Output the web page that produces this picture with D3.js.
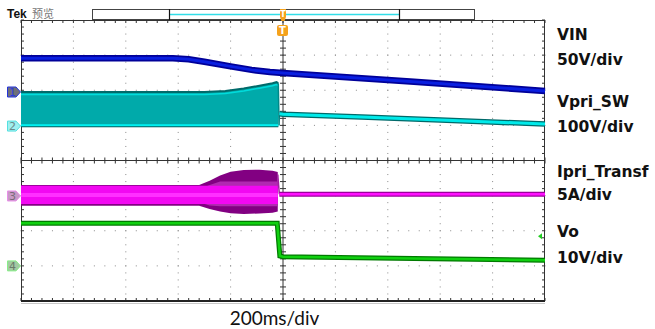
<!DOCTYPE html>
<html lang="zh">
<head>
<meta charset="UTF-8">
<title>Scope capture</title>
<style>
  body { margin: 0; background: #fff; }
  svg { display: block; }
</style>
</head>
<body>
<svg id="scope" width="655" height="329"></svg>
<script src="https://d3js.org/d3.v7.min.js"></script>
<script>
// time in ms (200ms/div, trigger at 0), values in screen divisions (+4 top, -4 bottom)
const vinTrace = [[-1000, 2.91], [-420, 2.91], [-360, 2.88], [-300, 2.81], [-200, 2.68], [-120, 2.58], [-50, 2.52], [0, 2.49], [500, 2.24], [1000, 1.98]];

const vpriTop = [[-1000, 1.95], [-300, 1.95], [-220, 1.98], [-150, 2.05], [-90, 2.13], [-40, 2.20], [-25, 2.23], [-18, 2.20]];
const vpriBottom = [[-1000, 0.96], [-18, 0.96]];
const vpriAfter = [[-14, 1.33], [0, 1.32], [300, 1.24], [600, 1.15], [1000, 1.04]];

// [time, upper envelope, lower envelope]
const ipriEnvelope = [[-1000, -0.70, -1.29], [-320, -0.70, -1.29], [-280, -0.58, -1.38], [-240, -0.43, -1.45], [-200, -0.32, -1.50],
  [-150, -0.27, -1.52], [-90, -0.26, -1.51], [-40, -0.29, -1.49], [-20, -0.33, -1.45]];
const ipriCore = [[-1000, -0.72, -1.24], [-20, -0.72, -1.24]];
const ipriAfter = [[-14, -0.96], [1000, -0.96]];

const voTrace = [[-1000, -1.79], [-22, -1.79], [-12, -2.72], [0, -2.74], [500, -2.79], [1000, -2.84]];

const channelMarkers = [
  { label: "1", level: 1.95, fill: "#6f6f78", stroke: "#2233dd", text: "#2a3adf" },
  { label: "2", level: 0.98, fill: "#9ff0f0", stroke: "#55e0e0", text: "#6a8a8a" },
  { label: "3", level: -1.01, fill: "#c79ac7", stroke: "#e890e8", text: "#7a6a7a" },
  { label: "4", level: -3.00, fill: "#a3c9a3", stroke: "#88ee88", text: "#6a7a6a" }
];

const sideLabels = [
  { text: "VIN", y: 40 }, { text: "50V/div", y: 65 },
  { text: "Vpri_SW", y: 107 }, { text: "100V/div", y: 132 },
  { text: "Ipri_Transf", y: 177 }, { text: "5A/div", y: 200 },
  { text: "Vo", y: 237 }, { text: "10V/div", y: 263 }
];

const svg = d3.select("#scope");

const plotLeft = 21, plotRight = 545, plotTop = 20, plotBottom = 301;
const x = d3.scaleLinear().domain([-1000, 1000]).range([plotLeft, plotRight]);
const y = d3.scaleLinear().domain([-4, 4]).range([plotBottom, plotTop]);

const xMajor = d3.range(-1000, 1001, 200);
const yMajor = d3.range(-4, 5, 1);
const xMinor = d3.range(-1000, 1001, 40);
const yMinor = d3.range(-4, 4.001, 0.2);

// graticule dots
const grid = svg.append("g").attr("fill", "#8a8a8a");
xMajor.slice(1, -1).filter(t => t !== 0).forEach(t => {
  yMinor.forEach(v => grid.append("rect").attr("x", x(t) - 0.5).attr("y", y(v) - 0.5).attr("width", 1).attr("height", 1));
});
yMajor.slice(1, -1).filter(v => v !== 0).forEach(v => {
  xMinor.forEach(t => grid.append("rect").attr("x", x(t) - 0.5).attr("y", y(v) - 0.5).attr("width", 1).attr("height", 1));
});

// border and centre cross with ticks
const frame = svg.append("g").attr("stroke", "#333").attr("stroke-width", 1).attr("fill", "none");
frame.append("rect").attr("x", plotLeft + 0.5).attr("y", plotTop + 0.5).attr("width", plotRight - plotLeft - 1).attr("height", plotBottom - plotTop - 1);
frame.append("line").attr("x1", x(0)).attr("x2", x(0)).attr("y1", plotTop).attr("y2", plotBottom);
frame.append("line").attr("x1", plotLeft).attr("x2", plotRight).attr("y1", y(0)).attr("y2", y(0));
xMinor.forEach(t => {
  frame.append("line").attr("x1", x(t)).attr("x2", x(t)).attr("y1", plotTop).attr("y2", plotTop + 3);
  frame.append("line").attr("x1", x(t)).attr("x2", x(t)).attr("y1", plotBottom - 3).attr("y2", plotBottom);
  frame.append("line").attr("x1", x(t)).attr("x2", x(t)).attr("y1", y(0) - 3).attr("y2", y(0) + 3);
});
yMinor.forEach(v => {
  frame.append("line").attr("x1", plotLeft).attr("x2", plotLeft + 3).attr("y1", y(v)).attr("y2", y(v));
  frame.append("line").attr("x1", plotRight - 3).attr("x2", plotRight).attr("y1", y(v)).attr("y2", y(v));
  frame.append("line").attr("x1", x(0) - 3).attr("x2", x(0) + 3).attr("y1", y(v)).attr("y2", y(v));
});
svg.append("line").attr("x1", plotLeft).attr("x2", plotRight).attr("y1", plotBottom).attr("y2", plotBottom)
  .attr("stroke", "#222").attr("stroke-width", 2);
svg.append("line").attr("x1", plotLeft).attr("x2", plotRight).attr("y1", plotBottom + 2.5).attr("y2", plotBottom + 2.5)
  .attr("stroke", "#c8c8c8").attr("stroke-width", 1);

const line = d3.line().x(d => x(d[0])).y(d => y(d[1]));
const band = d3.area().x(d => x(d[0])).y0(d => y(d[2])).y1(d => y(d[1]));
const traces = svg.append("g");

// Vpri_SW switching band
const vpriArea = vpriTop.map(d => [d[0], d[1], 0.96]);
traces.append("path").datum(vpriArea).attr("d", band).attr("fill", "#00aaaa");
traces.append("path").datum(vpriTop).attr("d", line).attr("fill", "none").attr("stroke", "#006a6a").attr("stroke-width", 2);
traces.append("path").datum(vpriTop.map(d => [d[0], d[1] - 0.07])).attr("d", line).attr("fill", "none").attr("stroke", "#00dcdc").attr("stroke-width", 1.5);
traces.append("path").datum([[-1000, 1.0], [-18, 1.0]]).attr("d", line).attr("fill", "none").attr("stroke", "#00f2f2").attr("stroke-width", 2.5);
traces.append("path").datum(vpriBottom).attr("d", line).attr("fill", "none").attr("stroke", "#005f5f").attr("stroke-width", 1);
traces.append("path").datum([[-18, 2.2], [-15, 1.0], [-14, 1.33]]).attr("d", line).attr("fill", "none").attr("stroke", "#008888").attr("stroke-width", 1.5);
traces.append("path").datum(vpriAfter).attr("d", line).attr("fill", "none").attr("stroke", "#006a6a").attr("stroke-width", 5.5);
traces.append("path").datum(vpriAfter).attr("d", line).attr("fill", "none").attr("stroke", "#00eaea").attr("stroke-width", 3);

// VIN
traces.append("path").datum(vinTrace).attr("d", line).attr("fill", "none").attr("stroke", "#000099").attr("stroke-width", 6.5);
traces.append("path").datum(vinTrace).attr("d", line).attr("fill", "none").attr("stroke", "#0a1fe0").attr("stroke-width", 3);

// Ipri_Transf
traces.append("path").datum(ipriEnvelope).attr("d", band).attr("fill", "#820082");
const ipriMid = ipriEnvelope.filter(d => d[0] >= -320).map(d => [d[0], Math.min(d[1] - 0.12, -0.6), Math.max(d[2] + 0.1, -1.3)]);
traces.append("path").datum(ipriMid).attr("d", band).attr("fill", "#b12ab1");
traces.append("path").datum(ipriCore).attr("d", band).attr("fill", "#f208f2");
traces.append("path").datum([[-1000, -0.98], [-20, -0.98]]).attr("d", line).attr("fill", "none").attr("stroke", "#ff30ff").attr("stroke-width", 4);
traces.append("path").datum([[-20, -0.4], [-14, -0.96]]).attr("d", line).attr("fill", "none").attr("stroke", "#a020a0").attr("stroke-width", 1.5);
traces.append("path").datum(ipriAfter).attr("d", line).attr("fill", "none").attr("stroke", "#9a009a").attr("stroke-width", 5);
traces.append("path").datum(ipriAfter).attr("d", line).attr("fill", "none").attr("stroke", "#ff10ff").attr("stroke-width", 2.5);

// Vo
traces.append("path").datum(voTrace).attr("d", line).attr("fill", "none").attr("stroke", "#007a00").attr("stroke-width", 5);
traces.append("path").datum(voTrace).attr("d", line).attr("fill", "none").attr("stroke", "#10d010").attr("stroke-width", 2.5);
svg.append("path")
  .attr("d", `M${plotRight - 3},${y(-2.16) - 3} L${plotRight - 7},${y(-2.16)} L${plotRight - 3},${y(-2.16) + 3} Z`)
  .attr("fill", "#22cc22");

// channel ground markers
const mk = svg.append("g");
channelMarkers.forEach(m => {
  const cy = y(m.level);
  mk.append("path")
    .attr("d", `M7.5,${cy - 5} L16,${cy - 5} L20.5,${cy} L16,${cy + 5} L7.5,${cy + 5} Z`)
    .attr("fill", m.fill).attr("stroke", m.stroke).attr("stroke-width", 1);
  mk.append("text").attr("x", 12.5).attr("y", cy + 4).attr("text-anchor", "middle")
    .attr("font-family", "DejaVu Sans, sans-serif").attr("font-size", 11).attr("fill", m.text).text(m.label);
});

// header: record bar and trigger markers
svg.append("text").attr("x", 7).attr("y", 18).attr("font-family", "Liberation Sans, Arial, sans-serif")
  .attr("font-weight", "bold").attr("font-size", 12).attr("fill", "#111").text("Tek");
svg.append("text").attr("x", 32).attr("y", 18).attr("font-family", "Noto Sans CJK SC, sans-serif")
  .attr("font-size", 11).attr("fill", "#777").text("预览");
svg.append("rect").attr("x", 92.5).attr("y", 9.5).attr("width", 382).attr("height", 10)
  .attr("fill", "#fff").attr("stroke", "#444").attr("stroke-width", 1);
svg.append("line").attr("x1", 170).attr("x2", 399).attr("y1", 14.5).attr("y2", 14.5).attr("stroke", "#33dde8").attr("stroke-width", 1.5);
[169.5, 399.5].forEach(px => svg.append("line").attr("x1", px).attr("x2", px).attr("y1", 9).attr("y2", 20).attr("stroke", "#111").attr("stroke-width", 1.2));

const tx = x(0);
svg.append("path").attr("d", `M${tx - 3},9 L${tx + 3},9 L${tx + 3},17 L${tx + 1.5},21 L${tx - 1.5},21 L${tx - 3},17 Z`).attr("fill", "#f5a21c");
svg.append("text").attr("x", tx).attr("y", 17).attr("text-anchor", "middle").attr("font-family", "DejaVu Sans, sans-serif")
  .attr("font-size", 8).attr("font-weight", "bold").attr("fill", "#fff").text("T");
svg.append("rect").attr("x", tx - 6).attr("y", 25).attr("width", 11).attr("height", 11).attr("rx", 2).attr("fill", "#f5a21c");
svg.append("text").attr("x", tx - 0.5).attr("y", 34).attr("text-anchor", "middle").attr("font-family", "DejaVu Sans, sans-serif")
  .attr("font-size", 10).attr("font-weight", "bold").attr("fill", "#fff").text("T");

// labels
svg.append("g").selectAll("text").data(sideLabels).join("text")
  .attr("x", 557).attr("y", d => d.y)
  .attr("font-family", "DejaVu Sans, sans-serif").attr("font-weight", "bold").attr("font-size", 15.5)
  .attr("fill", "#111").text(d => d.text);

svg.append("text").attr("x", 274.5).attr("y", 325).attr("text-anchor", "middle")
  .attr("font-family", "Lato, sans-serif").attr("font-size", 19).attr("fill", "#111").text("200ms/div");
</script>
</body>
</html>
